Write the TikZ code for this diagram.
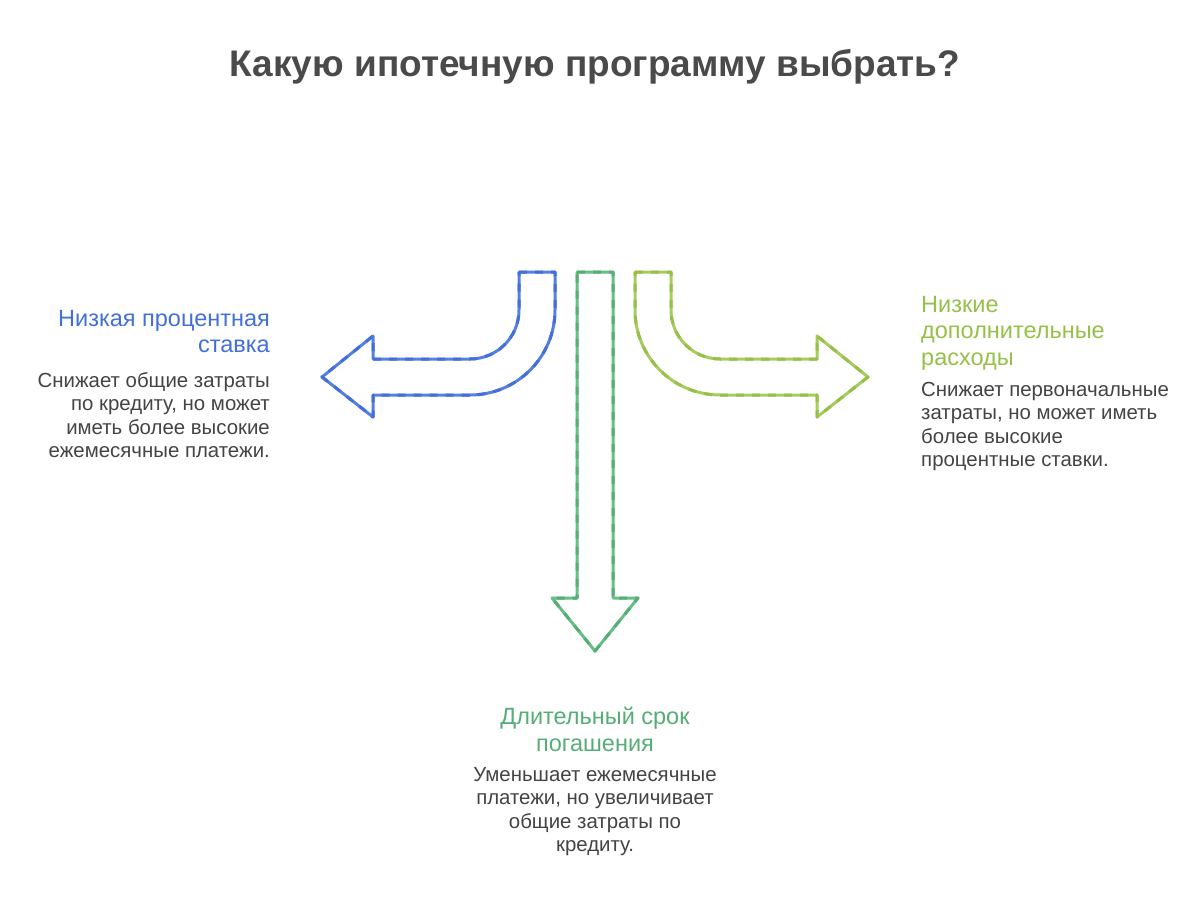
\documentclass[tikz,border=0pt]{standalone}
\usepackage{fontspec}
\setmainfont{Liberation Sans}
\definecolor{cblue}{RGB}{66,112,216}
\definecolor{cbluel}{RGB}{86,128,224}
\definecolor{cgreen}{RGB}{86,174,118}
\definecolor{cgreenl}{RGB}{104,190,134}
\definecolor{clime}{RGB}{150,192,72}
\definecolor{climel}{RGB}{166,204,94}
\definecolor{ctitle}{RGB}{74,74,74}
\definecolor{cbody}{RGB}{68,68,68}
\begin{document}
\begin{tikzpicture}[x=1pt,y=-1pt,
  shapeline/.style={line width=3pt,line join=round,fill=white},
  dashover/.style={line width=3pt,line join=round,dash pattern=on 8pt off 8pt},
  lbl/.style={inner sep=0pt,font=\fontsize{23.5}{26.5}\selectfont},
  body/.style={inner sep=0pt,text=cbody,font=\fontsize{20.4}{23.5}\selectfont},
  ttl/.style={inner sep=0pt,text=ctitle,font=\fontsize{37}{44}\selectfont\bfseries}]
\useasboundingbox (0,0) rectangle (1194,904);
\fill[white] (0,0) rectangle (1194,904);
% title
\node[ttl,anchor=north] (title) at (595,49) {Какую ипотечную программу выбрать?};
% blue arrow
\def\bluepath{(519,272) -- (555,272) -- (555,310) arc[start angle=0,end angle=-90,radius=85pt]
  -- (373,395) -- (373,417) -- (322,377) -- (373,336) -- (373,359) -- (470,359)
  arc[start angle=-90,end angle=0,radius=49pt] -- cycle}
\draw[shapeline,draw=cbluel] \bluepath;
\draw[dashover,draw=cblue] \bluepath;
% green arrow
\def\greenpath{(577,272) -- (613,272) -- (613,598) -- (638,598) -- (595,651) -- (552,598) -- (577,598) -- cycle}
\draw[shapeline,draw=cgreenl] \greenpath;
\draw[dashover,draw=cgreen] \greenpath;
% lime arrow
\def\limepath{(635,272) -- (671,272) -- (671,310) arc[start angle=180,end angle=270,radius=49pt]
  -- (817,359) -- (817,336) -- (868,377) -- (817,417) -- (817,395) -- (720,395)
  arc[start angle=270,end angle=180,radius=85pt] -- cycle}
\draw[shapeline,draw=climel] \limepath;
\draw[dashover,draw=clime] \limepath;
% left texts
\node[lbl,text=cblue,anchor=north east,align=right] (ltitle) at (270,310) {Низкая процентная\\ставка};
\node[body,anchor=north east,align=right] (lbody) at (270,372) {Снижает общие затраты\\по кредиту, но может\\иметь более высокие\\ежемесячные платежи.};
% right texts
\node[lbl,text=clime,anchor=north west,align=left] (rtitle) at (921,296) {Низкие\\дополнительные\\расходы};
\node[body,anchor=north west,align=left] (rbody) at (921,382) {Снижает первоначальные\\затраты, но может иметь\\более высокие\\процентные ставки.};
% bottom texts
\node[lbl,text=cgreen,anchor=north,align=center] (btitle) at (595,707) {Длительный срок\\погашения};
\node[body,anchor=north,align=center] (bbody) at (595,767) {Уменьшает ежемесячные\\платежи, но увеличивает\\общие затраты по\\кредиту.};
\end{tikzpicture}
\end{document}
